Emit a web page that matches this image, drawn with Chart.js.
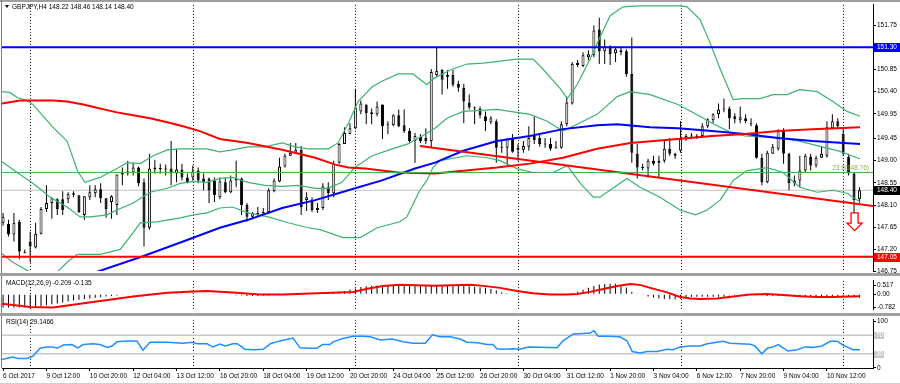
<!DOCTYPE html>
<html><head><meta charset="utf-8">
<script src="https://cdn.jsdelivr.net/npm/chart.js@4.4.0/dist/chart.umd.min.js"></script>
<style>
html,body{margin:0;padding:0;background:#fff;}
#wrap{position:relative;width:900px;height:384px;overflow:hidden;background:#fff;}
canvas{position:absolute;left:0;}
.ln{position:absolute;}
</style></head><body>
<div id="wrap">
<canvas id="main" width="900" height="276" style="top:0;width:900px;height:276px"></canvas>
<canvas id="macd" width="900" height="38" style="top:276px;width:900px;height:38px"></canvas>
<canvas id="rsi" width="900" height="69" style="top:315px;width:900px;height:69px"></canvas>
<div class="ln" style="left:0;top:0;width:900px;height:2px;background:#a0a0a0"></div>
<div class="ln" style="left:1px;top:0;width:1px;height:368px;background:#808080"></div>
<div class="ln" style="left:0;top:273px;width:900px;height:3px;background:#a0a0a0"></div>
<div class="ln" style="left:0;top:313px;width:900px;height:3px;background:#a0a0a0"></div>
<div class="ln" style="left:0;top:383px;width:900px;height:1px;background:#d0d0d0"></div>
</div>
<script>
// ---------- DATA ----------
const timeLabels = ['6 Oct 2017','9 Oct 12:00','10 Oct 20:00','12 Oct 04:00','13 Oct 12:00','16 Oct 20:00','18 Oct 04:00','19 Oct 12:00','20 Oct 20:00','24 Oct 04:00','25 Oct 12:00','26 Oct 20:00','30 Oct 04:00','31 Oct 12:00','1 Nov 20:00','3 Nov 04:00','6 Nov 12:00','7 Nov 20:00','9 Nov 04:00','10 Nov 12:00'];
const timeBars = [0,8,16,24,32,40,48,56,64,72,80,88,96,104,112,120,128,136,144,152];
const gridBars = [5,35,65,95,125,155];
const priceTicks = [151.75,150.85,150.40,149.95,149.45,149.00,148.55,148.10,147.65,147.20,146.75];
const macdTicks = [0.517,0,-0.782];
const macdTickLabels = ['0.517','0.00','-0.782'];
const rsiTicks = [100,70,30,0];

const open = [147.74,147.72,147.50,147.76,147.15,147.36,147.24,147.52,148.02,148.14,148.22,148.22,148.22,148.34,148.30,147.90,148.26,148.34,148.42,148.24,148.16,148.10,148.75,148.74,148.76,148.86,148.56,147.64,148.82,148.84,148.84,148.84,148.74,148.82,148.66,148.66,148.80,148.64,148.64,148.60,148.26,148.56,148.36,148.60,148.64,148.10,147.86,147.92,147.94,147.96,148.38,148.58,148.88,149.10,149.16,149.22,148.20,148.20,148.04,148.04,148.46,148.34,148.96,149.34,149.54,149.66,150.00,150.14,149.98,149.94,150.14,149.74,149.72,149.92,149.72,149.60,149.40,149.48,149.46,149.40,150.74,150.84,150.70,150.74,150.56,150.48,150.18,150.08,150.06,149.90,149.78,149.80,149.28,149.26,149.44,149.26,149.22,149.28,149.50,149.46,149.34,149.34,149.28,149.26,149.74,150.16,150.94,150.92,151.10,151.14,151.66,151.22,151.30,151.18,151.24,151.22,150.76,149.14,148.86,148.84,149.00,148.96,149.00,149.24,149.14,149.20,149.44,149.50,149.46,149.50,149.70,149.82,149.94,150.04,150.06,149.90,149.82,149.86,149.76,149.72,149.06,148.56,149.14,149.24,149.62,149.14,148.60,148.60,148.80,149.08,148.90,149.06,149.10,149.66,149.80,149.54,149.08,148.74,148.22];
const high = [147.94,147.80,147.94,147.80,147.20,147.56,147.74,148.06,148.50,148.26,148.24,148.38,148.36,148.38,148.30,148.28,148.50,148.50,148.54,148.24,148.30,148.72,148.86,149.00,148.96,148.88,148.64,149.14,149.02,148.94,148.92,149.40,149.24,148.94,148.74,148.90,148.86,148.74,148.66,148.66,148.66,148.66,148.70,149.00,148.66,148.14,147.96,148.06,148.04,148.44,148.64,149.06,149.14,149.36,149.36,149.30,148.36,148.26,148.14,148.54,148.56,149.00,149.36,149.68,149.76,150.46,150.22,150.14,150.06,150.20,150.14,149.80,149.94,150.04,150.04,149.66,149.56,149.54,149.66,150.86,151.30,150.86,150.84,150.84,150.62,150.56,150.34,150.10,150.10,150.00,149.90,149.84,149.40,149.46,149.54,149.34,149.40,149.70,149.90,149.54,149.46,149.46,149.40,149.80,150.30,151.00,151.04,151.20,151.24,151.74,151.90,151.46,151.34,151.30,151.30,151.26,151.50,149.34,148.94,149.04,149.10,149.10,149.40,149.46,149.16,149.80,149.54,149.56,149.54,149.76,149.86,149.96,150.16,150.26,150.10,149.96,150.10,149.94,149.86,149.76,149.14,149.20,149.34,149.64,149.66,149.16,148.70,149.10,149.14,149.14,149.10,149.30,149.80,149.94,149.86,149.66,149.14,148.76,148.46];
const low = [147.68,147.46,147.36,147.00,147.12,146.94,147.22,147.50,147.96,147.82,147.90,147.90,148.14,148.26,147.94,147.80,148.20,148.26,148.14,147.84,147.82,147.90,148.50,148.70,148.70,148.48,147.26,147.60,148.74,148.74,148.70,148.50,148.56,148.60,148.54,148.60,148.54,148.40,148.14,148.16,148.22,148.34,148.34,148.46,147.90,147.76,147.82,147.86,147.90,147.92,148.36,148.56,148.86,149.10,149.14,147.90,147.98,147.96,147.94,148.00,148.20,148.26,148.94,149.34,149.54,149.64,149.94,149.74,149.74,149.90,149.44,149.54,149.70,149.68,149.56,149.36,148.96,149.36,149.34,149.26,150.70,150.34,150.46,150.50,150.40,149.76,150.04,149.74,149.86,149.60,149.74,148.96,149.16,148.90,149.16,149.00,149.16,149.20,149.34,149.28,149.26,149.20,149.24,149.24,149.70,150.14,150.90,150.90,151.04,151.10,150.96,150.96,150.94,151.00,151.14,150.70,148.96,148.64,148.80,148.66,148.90,148.66,148.96,149.10,149.04,149.16,149.40,149.44,149.44,149.46,149.66,149.76,149.86,149.98,149.64,149.76,149.76,149.76,149.70,149.04,148.50,148.54,149.14,149.20,148.94,148.40,148.48,148.46,148.76,148.80,148.86,149.06,149.06,149.64,149.64,149.10,148.70,147.94,148.14];
const close = [147.86,147.50,147.74,147.16,147.13,147.26,147.52,148.02,148.14,148.24,148.02,148.00,148.32,148.31,147.96,148.28,148.36,148.42,148.24,148.02,148.28,148.72,148.72,148.78,148.86,148.54,147.64,148.84,148.86,148.83,148.82,148.74,148.82,148.66,148.54,148.78,148.60,148.56,148.40,148.30,148.58,148.36,148.60,148.64,148.10,147.86,147.94,147.94,147.96,148.40,148.60,148.88,149.10,149.16,149.22,148.06,148.26,148.00,148.00,148.48,148.34,148.94,149.34,149.56,149.66,150.08,150.16,149.96,149.94,150.10,149.70,149.72,149.92,149.70,149.60,149.40,149.50,149.40,149.40,150.80,150.82,150.64,150.74,150.54,150.48,150.20,150.08,150.06,149.92,149.80,149.86,149.26,149.26,149.44,149.18,149.22,149.30,149.46,149.42,149.34,149.33,149.24,149.26,149.74,150.18,150.96,150.98,151.14,151.16,151.64,151.22,151.32,151.16,151.26,151.20,150.76,149.16,148.86,148.85,149.00,148.94,149.00,149.24,149.14,149.10,149.44,149.50,149.49,149.50,149.70,149.84,149.94,150.04,150.06,149.86,149.84,149.88,149.80,149.74,149.06,148.56,149.16,149.28,149.60,149.14,148.54,148.54,148.80,149.10,148.90,149.06,149.14,149.68,149.80,149.70,149.14,148.74,148.20,148.40];

// Bollinger bands (at bar positions)
const upperBar = [-0.2,1.3,2.6,4.4,5.5,7.4,9.0,11.8,13.7,15.1,17.9,21.0,22.9,25.3,27.7,30.3,32.7,35.1,37.6,40.0,42.3,45.2,48.3,51.5,53.9,56.3,60.0,61.8,63.7,65.5,68.1,70.1,72.9,75.6,78.2,79.3,82.5,85.6,88.6,91.7,94.8,97.8,99.6,102.8,104.1,105.9,108.3,110.1,112.0,114.4,117.5,124.9,126.2,128.6,130.4,132.3,134.7,136.5,139.7,142.1,144.6,147.0,150.2,153.1,155.7,158.1];
const upperVal = [150.40,150.38,150.28,150.22,150.14,149.90,149.70,149.40,148.80,148.56,148.66,148.84,148.96,148.94,149.10,149.22,149.24,149.24,149.24,149.18,149.22,149.28,149.28,149.36,149.28,149.24,149.24,149.36,149.76,150.20,150.50,150.62,150.76,150.76,150.54,150.66,150.84,150.96,150.98,151.02,151.06,151.06,150.86,150.46,150.26,150.54,151.06,151.50,151.94,152.12,152.14,152.14,152.12,151.86,151.40,150.86,150.24,150.26,150.26,150.34,150.34,150.44,150.40,150.20,150.00,149.90];
const midBar = [-0.5,2.6,5.5,8.7,11.8,14.2,16.1,19.2,21.0,24.0,27.1,30.3,32.7,35.1,37.6,40.0,42.3,45.2,48.3,51.5,54.4,57.6,60.0,62.5,64.9,68.1,71.8,74.7,77.3,79.7,81.9,84.9,91.1,97.2,100.4,103.3,105.9,109.6,113.3,115.7,119.4,124.5,128.6,130.8,134.5,136.9,143.0,146.7,150.4,154.1,158.1];
const midVal = [149.00,148.76,148.54,148.26,148.06,147.86,147.86,147.90,148.00,148.14,148.36,148.44,148.54,148.58,148.56,148.64,148.66,148.56,148.50,148.48,148.50,148.44,148.44,148.56,148.86,149.10,149.24,149.34,149.50,149.66,149.86,150.00,150.04,149.94,149.80,149.60,149.74,149.94,150.30,150.40,150.34,150.14,149.90,149.76,149.56,149.50,149.46,149.40,149.30,149.20,149.04];
const lowBar = [-0.5,1.8,5.0,8.7,11.8,13.7,17.9,21.6,24.0,25.3,28.4,32.7,35.1,37.6,40.0,42.3,45.2,48.9,52.6,56.3,58.5,62.7,65.9,69.0,73.2,74.5,76.9,78.2,79.3,80.6,85.6,89.3,91.7,94.8,97.8,101.5,104.1,106.5,108.9,110.1,112.5,115.1,117.5,121.2,124.9,127.7,129.9,132.3,134.7,137.3,141.0,143.9,147.0,150.2,153.1,155.7,158.1];
const lowVal = [147.14,146.94,146.74,146.60,146.94,147.10,147.10,147.20,147.54,147.74,147.76,147.84,147.90,147.94,148.04,148.06,147.94,147.86,147.74,147.64,147.60,147.44,147.44,147.64,147.76,147.86,148.40,148.60,148.86,149.00,149.10,149.06,149.00,148.84,148.76,148.76,148.90,148.54,148.26,148.26,148.44,148.64,148.46,148.26,148.00,147.90,148.00,148.20,148.60,148.80,148.86,148.76,148.46,148.36,148.40,148.34,148.16];

// Moving averages
const redMaBar = [-0.2,3.1,9.2,11.8,14.8,17.9,21.0,24.0,27.1,30.3,33.2,36.3,40.0,45.2,51.5,57.6,61.3,63.7,66.8,72.9,79.7,91.1,97.2,103.3,109.6,115.7,124.5,130.8,136.9,143.0,149.3,158.1];
const redMaVal = [150.16,150.22,150.22,150.20,150.14,150.06,149.98,149.92,149.86,149.78,149.70,149.60,149.44,149.36,149.22,149.06,148.92,148.86,148.84,148.76,148.74,148.86,148.94,149.06,149.24,149.36,149.44,149.50,149.54,149.60,149.64,149.68];
const blueMaBar = [10.5,16.1,25.8,33.2,40.0,45.2,51.5,57.6,63.7,69.9,76.0,79.7,84.9,91.1,97.2,103.3,109.6,113.3,119.4,124.5,130.8,136.9,143.0,149.3,158.1];
const blueMaVal = [146.48,146.70,147.06,147.36,147.64,147.80,148.04,148.20,148.40,148.60,148.84,148.96,149.20,149.40,149.50,149.64,149.72,149.74,149.68,149.66,149.60,149.54,149.46,149.40,149.34];

// Drawn objects
const trendBar = [76.9,160.5];
const trendVal = [149.30,148.08];
const levelBlue = 151.30, levelFib = 148.76, levelBid = 148.40, levelRed = 147.05;
const arrowBar = 157.1, arrowTop = 147.94, arrowBottom = 147.58;

// MACD
const macdHist = [-0.80,-0.80,-0.80,-0.80,-0.79,-0.77,-0.75,-0.71,-0.66,-0.60,-0.55,-0.49,-0.43,-0.38,-0.33,-0.29,-0.25,-0.21,-0.18,-0.14,-0.11,-0.08,-0.05,-0.03,-0.02,
 0.01,0.02,0.02,0.02,0.02,0.02,0.02,0.02,0.01,0.01,0.01,
 0.00,-0.01,-0.01,-0.02,-0.02,-0.03,-0.04,
 -0.06,-0.08,-0.10,-0.10,-0.10,-0.09,-0.07,-0.05,
 0.02,0.04,0.05,0.05,0.04,0.05,0.06,
 0.08,0.09,0.10,0.12,0.15,
 0.20,0.28,0.35,0.43,0.48,0.51,0.52,0.53,0.53,0.54,0.54,0.54,0.53,0.53,0.52,0.52,0.54,0.55,0.55,0.54,0.53,0.52,0.50,0.47,0.45,0.42,0.38,0.32,0.22,0.12,0.06,
 -0.03,-0.03,-0.03,-0.03,-0.03,-0.03,-0.03,-0.03,-0.03,-0.03,-0.03,
 0.08,0.15,0.27,0.38,0.49,0.58,0.61,0.63,0.62,0.55,0.40,0.15,0.02,-0.05,-0.14,-0.20,-0.25,-0.28,-0.30,-0.30,-0.27,-0.20,
 -0.15,-0.15,-0.15,-0.15,-0.15,-0.15,-0.15,
 -0.06,-0.06,-0.06,-0.06,-0.06,-0.06,-0.06,
 -0.10,-0.10,-0.10,-0.10,-0.10,-0.10,
 -0.17,-0.17,-0.17,-0.17,-0.17,-0.17,-0.17,-0.17,-0.17,-0.17,-0.17,-0.21];
const sigBar = [-0.5,5.0,9.2,17.9,24.0,30.3,35.1,37.6,42.4,47.4,51.7,57.9,64.6,67.2,70.1,73.2,79.3,86.2,88.6,91.7,94.8,97.8,100.9,104.1,105.9,108.3,110.1,113.3,115.7,117.5,119.4,122.5,124.9,126.8,128.6,131.7,134.7,137.8,141.0,143.9,147.0,150.2,153.1,156.3,158.1];
const sigVal = [-0.56,-0.77,-0.80,-0.41,-0.14,0.09,0.17,0.19,0.11,-0.02,-0.02,0.06,0.14,0.33,0.49,0.56,0.50,0.56,0.50,0.38,0.19,0.06,-0.02,-0.02,0.02,0.14,0.27,0.49,0.61,0.56,0.38,0.11,-0.17,-0.25,-0.28,-0.25,-0.14,-0.02,0.02,-0.05,-0.12,-0.17,-0.17,-0.14,-0.12];

// RSI
const rsiBar = [-0.5,1.8,2.8,4.4,5.5,6.8,8.1,9.2,10.0,11.1,12.7,13.8,14.8,16.6,17.9,19.2,20.1,21.0,22.9,24.7,25.8,27.1,30.3,33.2,34.9,35.8,37.6,38.7,40.0,41.0,42.4,43.2,44.6,46.1,48.0,49.3,51.1,53.5,54.8,56.6,57.9,58.9,60.3,60.9,62.7,64.6,66.4,67.7,69.6,71.8,73.8,75.6,77.9,79.2,80.6,82.5,84.3,85.6,87.5,89.3,90.4,91.1,92.3,94.1,95.4,96.9,99.1,102.2,103.3,105.2,107.0,108.3,109.0,109.8,111.4,113.8,115.1,116.1,117.5,118.8,120.7,122.5,123.6,124.9,126.8,128.6,129.9,131.7,132.8,134.1,135.9,137.8,138.7,140.0,141.0,142.1,143.0,143.9,144.8,146.5,148.0,149.4,151.1,152.6,153.9,155.0,156.8,158.1];
const rsiVal = [17,23,20,20,25,42,45,45,42,49,50,43,50,52,50,44,47,56,58,58,38,55,55,53,55,52,52,45,51,47,52,52,40,39,40,52,58,64,43,42,42,50,50,56,63,68,68,67,60,62,56,53,53,71,67,67,62,55,54,50,50,41,40,41,40,45,44,43,58,73,74,75,80,68,68,67,58,35,32,35,35,40,39,45,47,47,52,55,57,53,52,51,47,30,42,45,50,43,36,39,45,44,47,57,57,49,39,39];
const rsiLevels = [70,30];

// ---------- RENDER ----------
const FONT = {family:'"Liberation Sans", Arial, sans-serif', size:6.5};
const FONTSTR = '6.5px "Liberation Sans", Arial, sans-serif';
Chart.defaults.font.family = FONT.family;
Chart.defaults.font.size = FONT.size;
Chart.defaults.color = '#000';
const X_MIN = -0.2, X_MAX = 160.5;
const pts = (xs, ys) => xs.map((x,i)=>({x, y:ys[i]}));
const hline = v => [{x:X_MIN,y:v},{x:X_MAX,y:v}];
const idx = open.map((_,i)=>i);

function xAxis(show){
  const s = {type:'linear', min:X_MIN, max:X_MAX, offset:false, display:show, grid:{display:false, offset:false}};
  if (show){
    Object.assign(s, {
      position:'bottom',
      afterBuildTicks: sc => { sc.ticks = timeBars.map(v=>({value:v})); },
      afterFit: sc => { sc.height = 16; },
      ticks:{align:'start', autoSkip:false, maxRotation:0, minRotation:0, padding:1, font:FONT, color:'#000',
             callback:(v,i)=>timeLabels[i]},
      grid:{display:true, drawOnChartArea:false, drawTicks:true, tickLength:3, color:'#000', offset:false},
      border:{display:true, color:'#000'}
    });
  }
  return s;
}
function yAxis(min, max, tickVals, cb){
  return {position:'right', min, max,
    afterFit: sc => { sc.width = 27; },
    afterBuildTicks: sc => { sc.ticks = tickVals.map(v=>({value:v})); },
    ticks:{font:FONT, color:'#000', padding:1, callback:cb},
    grid:{drawOnChartArea:false, tickLength:3, color:'#000'},
    border:{display:true, color:'#000'}};
}
const baseOpts = {responsive:false, animation:false, devicePixelRatio:1, events:[],
  plugins:{legend:{display:false}, tooltip:{enabled:false}, title:{display:false}}};

function dotted(chart){
  const {ctx, chartArea:a, scales:{x}} = chart;
  ctx.save(); ctx.strokeStyle='#000'; ctx.lineWidth=1; ctx.setLineDash([1,2]);
  gridBars.forEach(b=>{ const px=Math.round(x.getPixelForValue(b))+0.5;
    ctx.beginPath(); ctx.moveTo(px,a.top); ctx.lineTo(px,a.bottom); ctx.stroke(); });
  ctx.restore();
}
function axisBox(ctx, y, text, bg, fg, w){
  ctx.save(); ctx.fillStyle=bg; ctx.fillRect(874, Math.round(y)-4, w||26, 9);
  ctx.fillStyle=fg; ctx.font=FONTSTR; ctx.textBaseline='middle'; ctx.textAlign='left';
  ctx.fillText(text, 877, Math.round(y)+0.5); ctx.restore();
}

const mainPlugin = {
  id:'mainPlugin',
  beforeDatasetsDraw(chart){ dotted(chart); },
  afterDatasetsDraw(chart){
    const {ctx, scales:{x,y}} = chart;
    const ax = x.getPixelForValue(arrowBar), at = y.getPixelForValue(arrowTop), ab = y.getPixelForValue(arrowBottom);
    const mid = at + (ab-at)*0.58;
    ctx.save(); ctx.beginPath();
    ctx.moveTo(ax-3.5,at); ctx.lineTo(ax+3.5,at); ctx.lineTo(ax+3.5,mid); ctx.lineTo(ax+7.5,mid);
    ctx.lineTo(ax,ab); ctx.lineTo(ax-7.5,mid); ctx.lineTo(ax-3.5,mid); ctx.closePath();
    ctx.fillStyle='#fff'; ctx.fill(); ctx.strokeStyle='#ff0000'; ctx.lineWidth=1.3; ctx.stroke();
    ctx.font=FONTSTR; ctx.fillStyle='#8db534'; ctx.textAlign='right'; ctx.textBaseline='bottom';
    ctx.fillText('23.6(148.76)', chart.chartArea.right-4, y.getPixelForValue(levelFib)-1);
    ctx.restore();
  },
  afterDraw(chart){
    const {ctx, scales:{y}} = chart;
    ctx.save();
    ctx.fillStyle='#000';
    ctx.beginPath(); ctx.moveTo(5,5); ctx.lineTo(9,5); ctx.lineTo(7,8); ctx.closePath(); ctx.fill();
    ctx.font=FONTSTR; ctx.textBaseline='middle'; ctx.textAlign='left';
    ctx.fillText('GBPJPY,H4 148.22 148.46 148.14 148.40', 12, 7);
    ctx.restore();
    axisBox(ctx, y.getPixelForValue(levelBlue), '151.30', '#0000ff', '#fff');
    axisBox(ctx, y.getPixelForValue(levelBid), '148.40', '#000000', '#fff');
    axisBox(ctx, y.getPixelForValue(levelRed), '147.05', '#ff0000', '#fff');
  }
};

const line = (data, color, w, order) => ({type:'line', data, borderColor:color, borderWidth:w, pointRadius:0, tension:0, fill:false, order});

new Chart(document.getElementById('main'), {
  type:'bar',
  data:{datasets:[
    line(hline(levelBid), '#c0c0c0', 1, 20),
    {type:'bar', data: idx.map(i=>({x:i, y:[low[i], high[i]]})), backgroundColor:'#000', barThickness:1, inflateAmount:0, grouped:false, order:11},
    {type:'bar', data: idx.map(i=>({x:i, y:[open[i], close[i]]})),
      backgroundColor: idx.map(i=> close[i]>=open[i] ? '#ffffff' : '#000000'),
      borderColor:'#000', borderWidth:1, borderSkipped:false, barThickness:3, minBarLength:1, inflateAmount:0, grouped:false, order:10},
    line(pts(upperBar, upperVal), '#3cb371', 1.2, 5),
    line(pts(midBar, midVal), '#3cb371', 1.2, 5),
    line(pts(lowBar, lowVal), '#3cb371', 1.2, 5),
    line(pts(redMaBar, redMaVal), '#ff0000', 2, 4),
    line(pts(blueMaBar, blueMaVal), '#0000ff', 2, 4),
    line(pts(trendBar, trendVal), '#ff0000', 2, 3),
    line(hline(levelFib), '#4cb04c', 1, 2),
    line(hline(levelBlue), '#0000ff', 2, 1),
    line(hline(levelRed), '#ff0000', 2, 1)
  ]},
  options:Object.assign({}, baseOpts, {
    layout:{padding:{left:2, top:2, right:0, bottom:4}},
    scales:{ x:xAxis(false), y:yAxis(146.76, 152.16, priceTicks, v=>Number(v).toFixed(2)) }
  }),
  plugins:[mainPlugin]
});

const macdPlugin = {
  id:'macdPlugin',
  beforeDatasetsDraw(chart){ dotted(chart); },
  afterDraw(chart){
    const {ctx} = chart; ctx.save(); ctx.font=FONTSTR; ctx.fillStyle='#000'; ctx.textBaseline='middle'; ctx.textAlign='left';
    ctx.fillText('MACD(12,26,9) -0.209 -0.135', 6, 7); ctx.restore();
  }
};
new Chart(document.getElementById('macd'), {
  type:'bar',
  data:{datasets:[
    {type:'bar', data: macdHist.map((v,i)=>({x:i, y:v})), backgroundColor:'#000', barThickness:1, inflateAmount:0, grouped:false, order:2},
    line(pts(sigBar, sigVal), '#ff0000', 2, 1)
  ]},
  options:Object.assign({}, baseOpts, {
    layout:{padding:{left:2, top:0, right:0, bottom:2}},
    scales:{ x:xAxis(false), y:yAxis(-0.892, 0.798, macdTicks, (v,i)=>macdTickLabels[i]) }
  }),
  plugins:[macdPlugin]
});

const rsiPlugin = {
  id:'rsiPlugin',
  beforeDatasetsDraw(chart){ dotted(chart); },
  afterDraw(chart){
    const {ctx, scales:{y}} = chart; ctx.save(); ctx.font=FONTSTR; ctx.fillStyle='#000'; ctx.textBaseline='middle'; ctx.textAlign='left';
    ctx.fillText('RSI(14) 29.1466', 6, 7);
    rsiLevels.forEach(l=>{ const py=Math.round(y.getPixelForValue(l));
      ctx.fillStyle='#c8c8c8'; ctx.fillRect(874, py-3, 10, 7);
      ctx.fillStyle='#fff'; ctx.fillText(String(l), 876, py+0.5); });
    ctx.restore();
  }
};
new Chart(document.getElementById('rsi'), {
  type:'line',
  data:{datasets:[
    line(hline(rsiLevels[0]), '#c8c8c8', 1.5, 3),
    line(hline(rsiLevels[1]), '#c8c8c8', 1.5, 3),
    line(pts(rsiBar, rsiVal), '#1e90ff', 1.5, 1)
  ]},
  options:Object.assign({}, baseOpts, {
    layout:{padding:{left:2, top:1, right:0, bottom:0}},
    scales:{ x:xAxis(true), y:yAxis(-0.6, 103.4, rsiTicks, v=> (v===70||v===30) ? '' : String(v)) }
  }),
  plugins:[rsiPlugin]
});
</script>
</body></html>
